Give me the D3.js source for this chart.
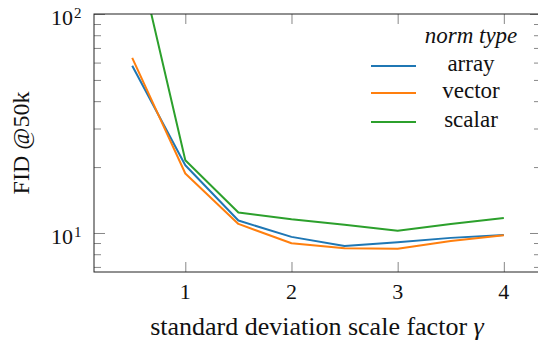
<!DOCTYPE html>
<html>
<head>
<meta charset="utf-8">
<script src="https://cdn.jsdelivr.net/npm/d3@7"></script>
</head>
<body style="margin:0">
<script>
// data
const gammas = [0.5, 1, 1.5, 2, 2.5, 3, 3.5, 4];
const arrayFID  = [58, 20.4, 11.4, 9.6, 8.72, 9.07, 9.5, 9.8];
const vectorFID = [63, 18.7, 11.0, 8.98, 8.51, 8.47, 9.2, 9.77];
const scalarFID = [237, 21.5, 12.4, 11.55, 10.9, 10.25, 11.0, 11.7];
const seriesNames = ["array", "vector", "scalar"];
const seriesColors = ["#1f77b4", "#ff7f0e", "#2ca02c"];
const xTicks = [1, 2, 3, 4];
const yMajor = [10, 100];
const yMajorExp = ["1", "2"];
const yMinor = [7, 8, 9, 20, 30, 40, 50, 60, 70, 80, 90];

const width = 538, height = 341;
const margin = { top: 14, right: -3, bottom: 69, left: 94 };
const plotW = width - margin.left - margin.right;
const plotH = height - margin.top - margin.bottom;

const svg = d3.select("body").append("svg")
  .attr("width", width)
  .attr("height", height);

// serif only showed up here at 22px and above, so keep labels >= 22px
function label(parent, tx, ty, size) {
  return parent.append("text")
    .attr("x", tx)
    .attr("y", ty)
    .style("font-family", "'Liberation Serif'")
    .style("font-size", size + "px")
    .attr("fill", "#111");
}

const x = d3.scaleLinear().domain([0.14, 4.35]).range([0, plotW]);
const y = d3.scaleLog().domain([6.636, 100]).range([plotH, 0]);

const g = svg.append("g").attr("transform", `translate(${margin.left},${margin.top})`);

svg.append("defs").append("clipPath").attr("id", "clip")
  .append("rect").attr("width", plotW).attr("height", plotH);

const tickColor = "#7a7a7a";

// ticks (inward, mirrored on all sides)
function styleTicks(sel) {
  sel.select(".domain").remove();
  sel.selectAll("line").attr("stroke", tickColor).attr("stroke-width", 0.9);
}
g.append("g").call(d3.axisRight(y).tickValues(yMajor).tickSize(11).tickFormat("")).call(styleTicks);
g.append("g").call(d3.axisRight(y).tickValues(yMinor).tickSize(7).tickFormat("")).call(styleTicks);
g.append("g").attr("transform", `translate(${plotW},0)`)
  .call(d3.axisLeft(y).tickValues(yMajor).tickSize(11).tickFormat("")).call(styleTicks);
g.append("g").attr("transform", `translate(${plotW},0)`)
  .call(d3.axisLeft(y).tickValues(yMinor).tickSize(7).tickFormat("")).call(styleTicks);
g.append("g").attr("transform", `translate(0,${plotH})`)
  .call(d3.axisTop(x).tickValues(xTicks).tickSize(10).tickFormat("")).call(styleTicks);
g.append("g")
  .call(d3.axisBottom(x).tickValues(xTicks).tickSize(10).tickFormat("")).call(styleTicks);

// series
const series = [arrayFID, vectorFID, scalarFID];
const line = d3.line().x((d, i) => x(gammas[i])).y(d => y(d));
g.append("g").attr("clip-path", "url(#clip)")
  .selectAll("path")
  .data(series)
  .enter()
  .append("path")
    .attr("d", d => line(d))
    .attr("fill", "none")
    .attr("stroke", (d, i) => seriesColors[i])
    .attr("stroke-width", 2)
    .attr("stroke-linejoin", "round");

// frame
g.append("rect")
  .attr("width", plotW).attr("height", plotH)
  .attr("fill", "none").attr("stroke", "#222").attr("stroke-width", 1);

// tick labels
xTicks.forEach(t => {
  label(g, x(t), plotH + 27, 22).attr("text-anchor", "middle").text(t);
});
yMajor.forEach((t, i) => {
  label(g, -21, y(t) + 11, 22).attr("text-anchor", "end").text("10");
  label(g, -20, y(t) + 4, 15).text(yMajorExp[i]);
});

// axis titles
label(svg, margin.left + x(2.24), 335, 26)
  .attr("text-anchor", "middle")
  .html('standard deviation scale factor <tspan font-style="italic">γ</tspan>');

label(svg, 0, 0, 24)
  .attr("transform", "translate(29,143) rotate(-90)")
  .attr("text-anchor", "middle")
  .text("FID @50k");

// legend
const legend = svg.append("g");
label(legend, 471, 43, 23)
  .attr("text-anchor", "middle")
  .style("font-style", "italic")
  .text("norm type");
const legendY = [66, 93, 122];
seriesNames.forEach((name, i) => {
  legend.append("line")
    .attr("x1", 371).attr("x2", 416)
    .attr("y1", legendY[i]).attr("y2", legendY[i])
    .attr("stroke", seriesColors[i]).attr("stroke-width", 2);
  label(legend, 471, legendY[i] + 5, 23)
    .attr("text-anchor", "middle")
    .text(name);
});
</script>
</body>
</html>
